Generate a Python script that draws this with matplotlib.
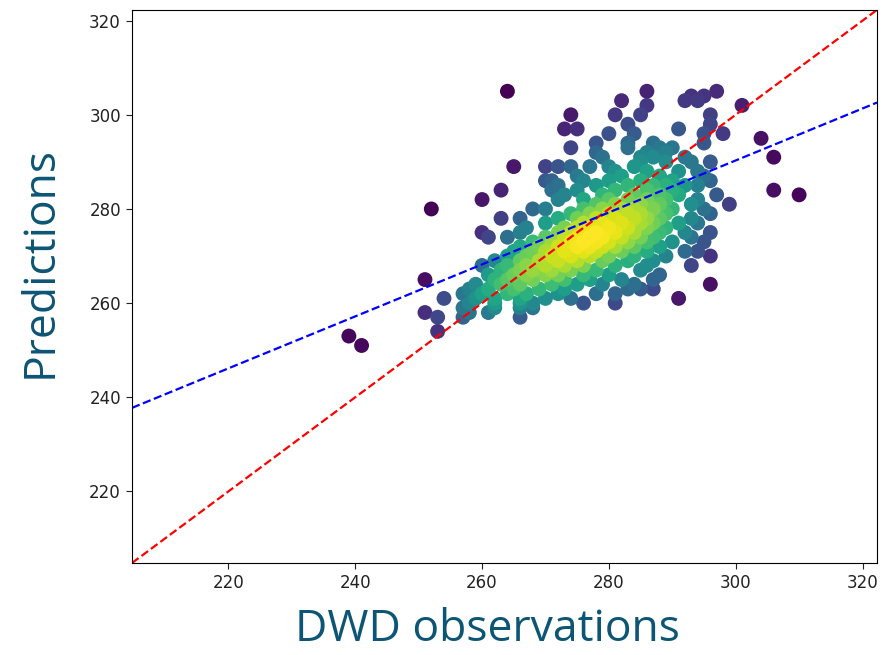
import numpy as np
import matplotlib
matplotlib.use('Agg')
import matplotlib.pyplot as plt

# DWD observations (x) against model predictions (y), one row per prediction level
rows = {
    305: [264, 286, 297],
    304: [293, 295],
    303: [282, 292, 294],
    302: [301, 286],
    300: [274, 281, 285, 296],
    298: [283, 296],
    297: [273, 275, 291],
    296: [280, 284, 298, 295],
    295: [304],
    294: [278, 283, 295, 287],
    293: [274, 283, 288, 290],
    292: [278, 286, 289],
    291: [279, 306, 285, 287, 292],
    290: [285, 293, 296, 289],
    289: [265, 270, 272, 274, 277, 284, 280],
    288: [281, 286, 291, 294],
    287: [275, 282, 288, 295],
    286: [270, 271, 276, 280, 285, 290, 296],
    285: [272, 278, 283, 287, 289, 292, 294],
    284: [263, 271, 275, 281, 286, 290, 306],
    283: [273, 279, 284, 288, 291, 297, 310],
    282: [260, 272, 276, 280, 283, 286, 289, 294],
    281: [278, 281, 285, 288, 293, 299],
    280: [252, 268, 270, 276, 279, 282, 284, 287, 290, 295],
    279: [274, 277, 280, 283, 285, 289, 296],
    278: [263, 266, 272, 275, 278, 281, 284, 286, 288, 293],
    277: [270, 276, 279, 282, 285, 287, 291, 294],
    276: [267, 273, 275, 277, 280, 283, 286, 289],
    275: [260, 266, 272, 274, 276, 278, 281, 284, 288, 292, 296],
    274: [261, 264, 270, 273, 275, 277, 279, 282, 285, 287, 293],
    273: [268, 271, 274, 276, 278, 280, 283, 286, 290, 295],
    272: [266, 269, 272, 275, 277, 279, 281, 284, 288],
    271: [265, 268, 270, 273, 276, 278, 282, 286, 292, 294],
    270: [264, 267, 271, 274, 277, 280, 284, 289, 296],
    269: [262, 266, 269, 272, 275, 279, 283, 287],
    268: [260, 264, 267, 270, 273, 276, 281, 286, 293],
    267: [263, 266, 268, 271, 274, 278, 285],
    266: [261, 265, 267, 270, 272, 276, 280, 288],
    265: [251, 262, 264, 268, 273, 277, 282, 287],
    264: [259, 263, 266, 271, 275, 279, 284, 296],
    263: [258, 261, 265, 269, 273, 283, 285, 287],
    262: [257, 260, 264, 267, 272, 278, 281],
    261: [254, 259, 262, 266, 270, 274, 291],
    260: [258, 262, 266, 268, 276, 281],
    259: [257, 262, 266, 268],
    258: [251, 258, 261],
    257: [253, 257, 266],
    254: [253],
    253: [239],
    251: [241],
}
obs = np.array([x for y, xs in rows.items() for x in xs], dtype=float)
pred = np.array([y for y, xs in rows.items() for x in xs], dtype=float)

# fitted regression line: pred = fit_intercept + fit_slope * obs
fit_slope = 0.552
fit_intercept = 124.7
lims = (204.8, 322.3)

# gaussian kernel density for colouring, scott bandwidth
xy = np.vstack([obs, pred])
n = xy.shape[1]
cov = np.cov(xy) * n ** (-2.0 / 6)
inv = np.linalg.inv(cov)
d = xy[:, :, None] - xy[:, None, :]
z = np.exp(-0.5 * np.einsum('ijk,il,ljk->jk', d, inv, d)).sum(axis=1)
idx = z.argsort()
obs, pred, z = obs[idx], pred[idx], z[idx]

fig = plt.figure(figsize=(8.95, 6.55), dpi=100)
ax = fig.add_axes([0.1475, 0.1405, 0.8325, 0.8445])
ax.scatter(obs, pred, c=z, cmap='viridis', s=115, edgecolors='none')
ax.plot(lims, lims, 'r--', lw=1.6)
xs = np.array(lims)
ax.plot(xs, fit_intercept + fit_slope * xs, 'b--', lw=1.6)
ax.set_xlim(lims)
ax.set_ylim(lims)
ax.set_xticks([220, 240, 260, 280, 300, 320])
ax.set_yticks([220, 240, 260, 280, 300, 320])
ax.tick_params(labelsize=12, colors='#222222', length=4.5)

lab_color = '#0d5575'
fig.text(0.545, 0.038, 'DWD observations', fontsize=32, color=lab_color,
         family='Open Sans', ha='center', va='center')
fig.text(0.045, 0.6, 'Predictions', fontsize=32, color=lab_color,
         family='Open Sans', ha='center', va='center', rotation=90)

fig.savefig('out.png', dpi=100)
